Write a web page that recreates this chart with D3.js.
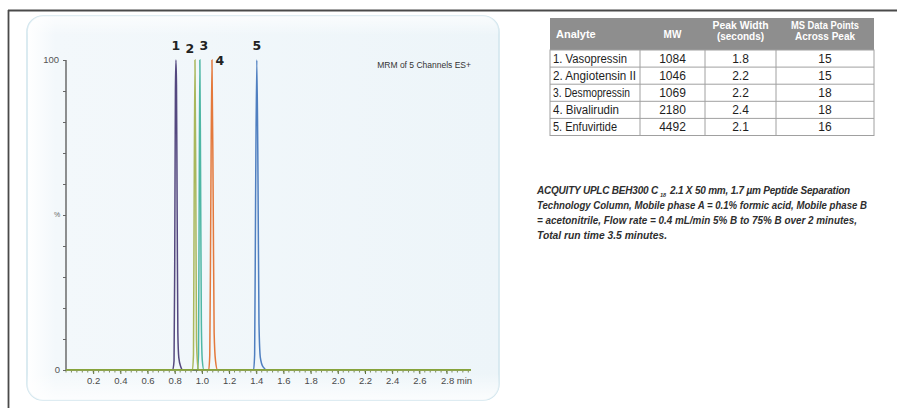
<!DOCTYPE html>
<html><head><meta charset="utf-8">
<script src="https://cdn.jsdelivr.net/npm/d3@7"></script>
<style>
html,body{margin:0;padding:0;background:#fff;}
svg{display:block;}
</style></head>
<body>
<svg id="c" width="897" height="408"></svg>
<script>
// ---------- data ----------
const peakLabels = ["1","2","3","4","5"];
const retentionTimes = [0.809, 0.949, 0.985, 1.074, 1.404];
const traceColors = ["#54487f","#a9b85c","#4fb7a5","#e4793c","#4f7fc0"];
const trace1 = [[0,0],[0.785,0],[0.795,3],[0.80,35],[0.805,90],[0.809,100],[0.813,92],[0.818,50],[0.823,12],[0.83,4],[0.845,1],[0.86,0],[2.98,0]];
const trace2 = [[0,0],[0.93,0],[0.938,5],[0.943,55],[0.949,100],[0.955,60],[0.96,10],[0.968,2],[0.975,0],[2.98,0]];
const trace3 = [[0,0],[0.968,0],[0.975,5],[0.98,55],[0.985,100],[0.99,65],[0.996,15],[1.003,3],[1.015,0],[2.98,0]];
const trace4 = [[0,0],[1.05,0],[1.058,5],[1.065,50],[1.074,100],[1.083,55],[1.09,12],[1.10,3],[1.115,0],[2.98,0]];
const trace5 = [[0,0],[1.38,0],[1.388,5],[1.395,55],[1.404,100],[1.413,60],[1.42,15],[1.43,4],[1.45,1],[1.48,0],[2.98,0]];
const xTickValues = [0.2,0.4,0.6,0.8,1.0,1.2,1.4,1.6,1.8,2.0,2.2,2.4,2.6,2.8];
const yTickValues = [0,10,20,30,40,50,60,70,80,90,100];
const chartTitle = "MRM of 5 Channels ES+";

const tableHeader = [["Analyte"],["MW"],["Peak Width","(seconds)"],["MS Data Points","Across Peak"]];
const analytes = ["1. Vasopressin","2. Angiotensin II","3. Desmopressin","4. Bivalirudin","5. Enfuvirtide"];
const molWeights = ["1084","1046","1069","2180","4492"];
const peakWidths = ["1.8","2.2","2.2","2.4","2.1"];
const dataPoints = ["15","15","18","18","16"];
const captionFirst = ["ACQUITY UPLC BEH300 C", "18", "2.1 X 50 mm, 1.7 µm Peptide Separation"];
const captionRest = [
  "Technology Column, Mobile phase A = 0.1% formic acid, Mobile phase B",
  "= acetonitrile, Flow rate = 0.4 mL/min 5% B to 75% B over 2 minutes,",
  "Total run time 3.5 minutes."
];

// ---------- drawing ----------
const svg = d3.select("#c");
const defs = svg.append("defs");
const g1 = defs.append("linearGradient").attr("id","panelGrad").attr("x1","0").attr("x2","1").attr("y1","0").attr("y2","0");
g1.append("stop").attr("offset","0").attr("stop-color","#ffffff");
g1.append("stop").attr("offset","0.06").attr("stop-color","#f3f8fb");
g1.append("stop").attr("offset","1").attr("stop-color","#edf5f9");
const g2 = defs.append("linearGradient").attr("id","panelGradV").attr("x1","0").attr("x2","0").attr("y1","0").attr("y2","1");
g2.append("stop").attr("offset","0").attr("stop-color","#ffffff").attr("stop-opacity",0.7);
g2.append("stop").attr("offset","0.05").attr("stop-color","#ffffff").attr("stop-opacity",0);
g2.append("stop").attr("offset","0.93").attr("stop-color","#ffffff").attr("stop-opacity",0);
g2.append("stop").attr("offset","1").attr("stop-color","#ffffff").attr("stop-opacity",0.8);

// outer frame
svg.append("line").attr("x1",8).attr("x2",897).attr("y1",10.5).attr("y2",10.5).attr("stroke","#4a4a4a").attr("stroke-width",1.8);
svg.append("line").attr("x1",8.5).attr("x2",8.5).attr("y1",10).attr("y2",408).attr("stroke","#4a4a4a").attr("stroke-width",1.8);

// chart panel
svg.append("rect").attr("x",27).attr("y",16).attr("width",472).attr("height",384).attr("rx",16)
  .attr("fill","url(#panelGrad)").attr("stroke","#d3e6ee").attr("stroke-width",1.6);
svg.append("rect").attr("x",27).attr("y",16).attr("width",472).attr("height",384).attr("rx",16)
  .attr("fill","url(#panelGradV)");

const x = d3.scaleLinear().domain([0, 2.98]).range([66, 471]);
const y = d3.scaleLinear().domain([0, 100]).range([370, 60]);
const lf = "Liberation Sans, Arial, sans-serif";

// y axis
const yAxis = d3.axisLeft(y).tickValues(yTickValues).tickSize(3).tickFormat(()=>"");
const ya = svg.append("g").attr("transform","translate(66,0)").call(yAxis);
ya.select(".domain").attr("stroke","#555").attr("stroke-width",1.3).attr("d","M0,60V370");
ya.selectAll(".tick line").attr("stroke","#666");
svg.append("text").attr("x",59).attr("y",y(100)).attr("dy","0.35em").attr("text-anchor","end")
  .attr("font-family",lf).attr("font-size",9.5).attr("fill","#555").text("100");
svg.append("text").attr("x",60).attr("y",y(0)).attr("dy","0.35em").attr("text-anchor","end")
  .attr("font-family",lf).attr("font-size",9.5).attr("fill","#555").text("0");
svg.append("text").attr("x",57).attr("y",y(50)).attr("dy","0.35em").attr("text-anchor","middle")
  .attr("font-family",lf).attr("font-size",7).attr("fill","#666").text("%");

// x axis minor ticks
const minor = d3.range(0, 2.981, 0.04);
svg.append("g").selectAll("line").data(minor).join("line")
  .attr("x1",d=>x(d)).attr("x2",d=>x(d)).attr("y1",370).attr("y2",372.5)
  .attr("stroke","#5d6e3a").attr("stroke-width",0.8);
const xAxis = d3.axisBottom(x).tickValues(xTickValues).tickSize(4)
  .tickFormat(d => d===2.8 ? "2.8 min" : d3.format(".1f")(d));
const xa = svg.append("g").attr("transform","translate(0,370)").call(xAxis);
xa.select(".domain").remove();
xa.selectAll(".tick line").attr("stroke","#5d6e3a");
xa.selectAll(".tick text").attr("font-family",lf).attr("font-size",9.5)
  .attr("fill","#4a4a4a").attr("y",7);
xa.selectAll(".tick").filter(d=>d===2.8).select("text").attr("dx","1.0em");

// traces
const traces = [trace1, trace2, trace3, trace4, trace5];
const line = d3.line().x(d=>x(d[0])).y(d=>y(d[1])).curve(d3.curveMonotoneX);
const order = [4,3,2,0,1];
svg.append("g").selectAll("path").data(order).join("path")
  .attr("d", i => line(traces[i]))
  .attr("fill","none").attr("stroke", i => traceColors[i]).attr("stroke-width",1.5);
// baseline
svg.append("line").attr("x1",x(0)).attr("x2",x(2.98)).attr("y1",369.8).attr("y2",369.8)
  .attr("stroke","#86a33b").attr("stroke-width",1.6);

// peak labels
const labelDy = [-10,-7,-10,5,-10];
const labelDx = [0,-5,4,8,0];
svg.append("g").selectAll("text").data(peakLabels).join("text")
  .attr("x",(d,i)=>x(retentionTimes[i]) + labelDx[i])
  .attr("y",(d,i)=>y(100) + labelDy[i])
  .attr("text-anchor","middle")
  .attr("font-family","DejaVu Sans, Verdana, sans-serif").attr("font-weight","bold")
  .attr("font-size",12.5).attr("fill","#222").text(d=>d);

svg.append("text").attr("x",471).attr("y",68).attr("text-anchor","end")
  .attr("font-family",lf).attr("font-size",8.5).attr("fill","#333")
  .text(chartTitle);

// ---------- table ----------
const colX = [550, 640, 705, 776, 874];
const headTop = 18, headBot = 50, rowH = 17.1;
const tf = lf;
svg.append("rect").attr("x",colX[0]).attr("y",headTop).attr("width",colX[4]-colX[0]).attr("height",headBot-headTop).attr("fill","#8e8e8e");
const nRows = analytes.length;
const tableBot = headBot + rowH*nRows;
svg.append("rect").attr("x",colX[0]).attr("y",headBot).attr("width",colX[4]-colX[0]).attr("height",rowH*nRows)
  .attr("fill","#fff").attr("stroke","#a0a0a0").attr("stroke-width",1);
d3.range(1,nRows).forEach(r=>{
  svg.append("line").attr("x1",colX[0]).attr("x2",colX[4]).attr("y1",headBot+r*rowH).attr("y2",headBot+r*rowH)
    .attr("stroke","#a0a0a0").attr("stroke-width",1);
});
[1,2,3].forEach(c=>{
  svg.append("line").attr("x1",colX[c]).attr("x2",colX[c]).attr("y1",headBot).attr("y2",tableBot)
    .attr("stroke","#a0a0a0").attr("stroke-width",1);
});
const colCenters = [null, (colX[1]+colX[2])/2, (colX[2]+colX[3])/2, (colX[3]+colX[4])/2];
tableHeader.forEach((lines,c)=>{
  const t = svg.append("text").attr("font-family",tf).attr("font-weight","bold").attr("fill","#fff")
    .attr("font-size", c===0 ? 11 : 10)
    .attr("x", c===0 ? colX[0]+6 : colCenters[c])
    .attr("text-anchor", c===0 ? "start" : "middle");
  if (lines.length===1) {
    t.attr("y",(headTop+headBot)/2).attr("dy","0.35em").text(lines[0]);
  } else {
    t.append("tspan").attr("x", colCenters[c]).attr("y",29).attr("textLength", c===2?56:68).attr("lengthAdjust","spacingAndGlyphs").text(lines[0]);
    t.append("tspan").attr("x", colCenters[c]).attr("y",40).text(lines[1]);
  }
});
const nameLen = [74, 83, 77, 66, 64];
const columns = [analytes, molWeights, peakWidths, dataPoints];
columns.forEach((vals,c)=>{
  const sel = svg.append("g").selectAll("text").data(vals).join("text")
    .attr("x", c===0 ? colX[0]+3 : colCenters[c])
    .attr("y",(d,i)=>headBot + rowH*i + rowH/2)
    .attr("dy","0.36em")
    .attr("text-anchor", c===0 ? "start" : "middle")
    .attr("font-family",tf).attr("font-size",12).attr("fill","#1e1e1e").text(d=>d);
  if (c===0) sel.attr("textLength",(d,i)=>nameLen[i]).attr("lengthAdjust","spacingAndGlyphs");
});

// ---------- caption ----------
const capStyle = t => t.attr("font-family",lf).attr("font-style","italic").attr("font-weight","bold")
  .attr("fill","#2e2e2e");
const c1 = capStyle(svg.append("text").attr("x",537).attr("y",194).attr("font-size",10).text(captionFirst[0]));
const c2 = capStyle(svg.append("text").attr("y",197).attr("font-size",5.5).text(captionFirst[1]));
const c3 = capStyle(svg.append("text").attr("y",194).attr("font-size",10).text(captionFirst[2]));
const w2 = c2.node().getComputedTextLength();
const gap = 2;
const avail = 850 - 537 - w2 - gap*2 - 2;
const n1 = captionFirst[0].length, n3 = captionFirst[2].length;
const excess = c1.node().getComputedTextLength() + c3.node().getComputedTextLength() - avail;
const ls = excess > 0 ? -excess / (n1 + n3) : 0;
c1.attr("letter-spacing", ls);
c3.attr("letter-spacing", ls);
const w1 = c1.node().getComputedTextLength();
c2.attr("x", 537 + w1 + gap);
c3.attr("x", 537 + w1 + gap + w2 + gap + 2);
const capY = [209, 224, 239];
const capLen = [330, 320, 130];
captionRest.forEach((str,i)=>{
  capStyle(svg.append("text").attr("x",537).attr("y",capY[i]).attr("font-size",10)
    .attr("textLength",capLen[i]).attr("lengthAdjust","spacingAndGlyphs").text(str));
});
</script>
</body></html>
